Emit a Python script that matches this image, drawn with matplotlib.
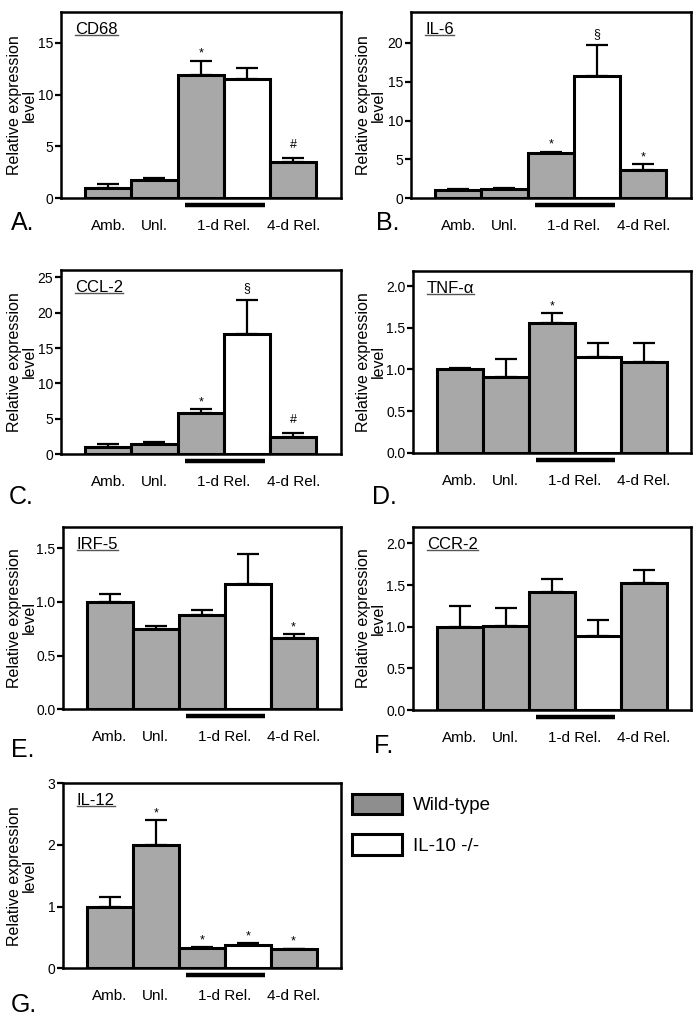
import numpy as np
import matplotlib
matplotlib.use('Agg')
import matplotlib.pyplot as plt
from matplotlib.patches import Patch

plt.rcParams['font.family'] = ['Liberation Sans', 'DejaVu Sans']

# bar order: Amb. (WT), Unl. (WT), 1-d Rel. (WT), 1-d Rel. (IL-10 -/-), 4-d Rel. (WT)
groups = ['Amb.', 'Unl.', '1-d Rel.', '4-d Rel.']
genotype = ['wt', 'wt', 'wt', 'ko', 'wt']
legend_labels = ['Wild-type', 'IL-10 -/-']

cd68 = [1.0, 1.72, 11.95, 11.5, 3.48]
cd68_err = [0.35, 0.17, 1.35, 1.12, 0.38]
cd68_marks = ['', '', '*', '', '#']

il6 = [1.0, 1.2, 5.85, 15.7, 3.6]
il6_err = [0.2, 0.15, 0.15, 4.0, 0.8]
il6_marks = ['', '', '*', '§', '*']

ccl2 = [1.0, 1.45, 5.8, 16.95, 2.4]
ccl2_err = [0.45, 0.25, 0.6, 4.85, 0.6]
ccl2_marks = ['', '', '*', '§', '#']

tnf = [1.0, 0.91, 1.56, 1.15, 1.09]
tnf_err = [0.02, 0.21, 0.12, 0.17, 0.23]
tnf_marks = ['', '', '*', '', '']

irf5 = [1.0, 0.745, 0.88, 1.17, 0.66]
irf5_err = [0.07, 0.035, 0.04, 0.28, 0.04]
irf5_marks = ['', '', '', '', '*']

ccr2 = [1.0, 1.01, 1.42, 0.89, 1.53]
ccr2_err = [0.25, 0.22, 0.15, 0.19, 0.15]
ccr2_marks = ['', '', '', '', '']

il12 = [1.0, 2.0, 0.33, 0.38, 0.31]
il12_err = [0.15, 0.4, 0.01, 0.03, 0.01]
il12_marks = ['', '*', '*', '*', '*']

W, H = 700, 1017
fig = plt.figure(figsize=(W / 100, H / 100), dpi=100)

gray = '#a8a8a9'
colors = {'wt': gray, 'ko': 'white'}

# (title, values, errors, marks, yticks, ymax, tick fmt, axes box in px (l, t, r, b), letter, letter pos px, ylabel x px)
panels = [
    ('CD68', cd68, cd68_err, cd68_marks, [0, 5, 10, 15], 18, '%d', (61, 12, 341, 198), 'A.', (11, 223), 22),
    ('IL-6', il6, il6_err, il6_marks, [0, 5, 10, 15, 20], 24, '%d', (411, 12, 691, 198), 'B.', (376, 223), 371),
    ('CCL-2', ccl2, ccl2_err, ccl2_marks, [0, 5, 10, 15, 20, 25], 26.1, '%d', (61, 269.5, 341, 454.3), 'C.', (9, 497), 22),
    ('TNF-α', tnf, tnf_err, tnf_marks, [0, 0.5, 1.0, 1.5, 2.0], 2.18, '%.1f', (413, 271, 691, 452.7), 'D.', (372, 497), 371),
    ('IRF-5', irf5, irf5_err, irf5_marks, [0, 0.5, 1.0, 1.5], 1.7, '%.1f', (63, 526.7, 341, 709.3), 'E.', (11, 750), 22),
    ('CCR-2', ccr2, ccr2_err, ccr2_marks, [0, 0.5, 1.0, 1.5, 2.0], 2.2, '%.1f', (413, 526.7, 691, 710), 'F.', (374, 746), 371),
    ('IL-12', il12, il12_err, il12_marks, [0, 1, 2, 3], 3.0, '%d', (63, 783.3, 341, 968.3), 'G.', (11, 1005), 22),
]

mark_offset = {'*': 0.5, '#': 5, '§': 4}
titles = []
for title, vals, errs, marks, yticks, ymax, fmt, box, letter, lpos, ylx in panels:
    l, t, r, b = box
    ax = fig.add_axes([l / W, 1 - b / H, (r - l) / W, (b - t) / H])
    x = np.arange(len(vals))
    ax.bar(x, vals, width=1.0, color=[colors[g] for g in genotype],
           edgecolor='black', linewidth=2.2, zorder=3)
    ax.errorbar(x, vals, yerr=[np.zeros(len(vals)), errs], fmt='none',
                ecolor='black', elinewidth=1.6, capsize=8, capthick=1.6, zorder=2)
    for xi, v, e, m in zip(x, vals, errs, marks):
        if m:
            ax.annotate(m, (xi, v + e), xytext=(0, mark_offset[m]), textcoords='offset points',
                        ha='center', va='bottom', fontsize=9)
    ax.set_xlim(-1.02, 5.03)
    ax.set_ylim(0, ymax)
    ax.set_yticks(yticks)
    ax.set_yticklabels([fmt % v for v in yticks], fontsize=10)
    ax.set_xticks([0, 1, 2.5, 4])
    ax.set_xticklabels(groups, fontsize=11)
    ax.tick_params(axis='x', length=0, pad=15)
    ax.tick_params(axis='y', length=4.5, width=1.6, pad=1, direction='out')
    for s in ax.spines.values():
        s.set_linewidth(1.8)
    # bar under the two 1-d Rel. groups
    ax.plot([1.65, 3.38], [-0.038, -0.038], color='black', lw=3.2,
            transform=ax.get_xaxis_transform(), clip_on=False, solid_capstyle='butt')
    txt = ax.text(0.05, 0.905, title, transform=ax.transAxes, ha='left', va='center', fontsize=12)
    titles.append((ax, txt))
    fig.text(ylx / W, 1 - (t + b) / 2 / H, 'Relative expression\nlevel', rotation=90,
             ha='center', va='center', multialignment='center', fontsize=11.5, linespacing=1.05)
    fig.text(lpos[0] / W, 1 - lpos[1] / H, letter, ha='left', va='center', fontsize=18)

# underline the gene names
fig.canvas.draw()
renderer = fig.canvas.get_renderer()
for ax, txt in titles:
    bb = txt.get_window_extent(renderer)
    inv = ax.transAxes.inverted()
    (x0, y0), (x1, _) = inv.transform([(bb.x0, bb.y0 + 2), (bb.x1, bb.y0)])
    ax.plot([x0, x1], [y0, y0], color='#555555', lw=1.0, transform=ax.transAxes, clip_on=False)

handles = [Patch(facecolor='#8e8e8e', edgecolor='black', linewidth=2.2),
           Patch(facecolor='white', edgecolor='black', linewidth=2.2)]
fig.legend(handles, legend_labels, loc='upper left', bbox_to_anchor=(352 / W, 1 - 794 / H),
           frameon=False, fontsize=13.5, handlelength=2.65, handleheight=1.3,
           handletextpad=0.6, labelspacing=1.05, borderpad=0, borderaxespad=0)

fig.savefig('out.png', dpi=100)
